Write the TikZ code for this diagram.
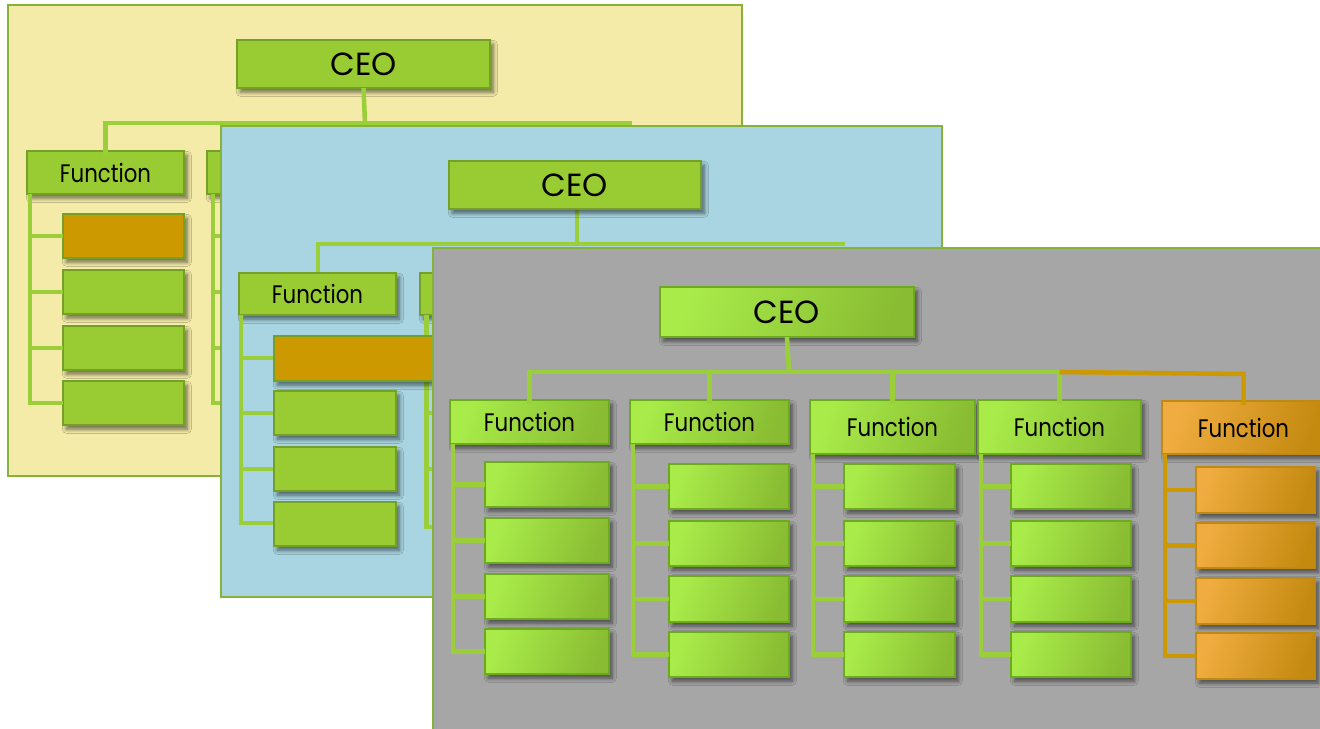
\documentclass[tikz,border=0pt]{standalone}
\usepackage{fontspec}
\setmainfont{Poppins}
\newfontfamily\narrowfont[FakeStretch=0.84]{Poppins}
\usetikzlibrary{shadows.blur}

\definecolor{panelY}{HTML}{F5EBA8}
\definecolor{panelB}{HTML}{A8D5E1}
\definecolor{panelG}{HTML}{A6A6A6}
\definecolor{panelEdge}{HTML}{86B23A}
\definecolor{flatG}{HTML}{99CC33}
\definecolor{flatEdge}{HTML}{74A029}
\definecolor{hiO}{HTML}{CC9900}
\definecolor{lineG}{HTML}{9BCF3A}
\definecolor{gLight}{HTML}{A9EC4A}
\definecolor{gDark}{HTML}{89BC32}
\definecolor{gEdge}{HTML}{6CAA1E}
\definecolor{oLight}{HTML}{F0AC40}
\definecolor{oDark}{HTML}{C48A10}
\definecolor{oEdge}{HTML}{C08A12}
\definecolor{lineO}{HTML}{CC9900}

% box given by its corners in pixel units: style, name, x1, y1, x2, y2, text
\newcommand{\orgbox}[7]{%
  \node[#1, minimum width={(#5-#3)*0.75pt}, minimum height={(#6-#4)*0.75pt}]
    (#2) at ({(#3+#5)/2},{(#4+#6)/2}) {#7};}

\tikzset{
  panel/.style={draw=panelEdge, line width=2.2pt},
  conn/.style={draw=lineG, line width=3.4pt},
  connO/.style={draw=lineO, line width=3.4pt},
  boxshadow/.style={blur shadow={shadow xshift=2.5pt, shadow yshift=-3.2pt,
      shadow blur steps=8, shadow blur radius=3pt, shadow opacity=55}},
  basebox/.style={inner sep=0pt, outer sep=0pt, boxshadow, text=black,
      font=\narrowfont\fontsize{19}{22}\selectfont},
  ceofont/.style={font=\fontsize{24}{28}\selectfont},
  flatbox/.style={basebox, draw=flatEdge, fill=flatG, line width=2.2pt},
  hibox/.style={flatbox, fill=hiO},
  gbox/.style={basebox, draw=gEdge, line width=2pt,
      left color=gLight, right color=gDark, shading angle=70},
  obox/.style={basebox, draw=oEdge, line width=2pt,
      left color=oLight, right color=oDark, shading angle=70},
}

\begin{document}
\begin{tikzpicture}[x=0.75pt,y=-0.75pt]
\useasboundingbox (0,0) rectangle (1320,728);
\clip (0,0) rectangle (1320,728);

% ---------- first sheet ----------
\draw[panel, fill=panelY] (8,5) rectangle (742,476);
\coordinate (ybus) at (365,123);
\coordinate (yend) at (632,123);
\orgbox{flatbox,ceofont}{yceo}{237}{40}{490}{88}{CEO}
\orgbox{flatbox}{yf1}{27}{151}{184}{194}{Function}
\orgbox{flatbox}{yf2}{207}{151}{364}{194}{Function}
\draw[conn] (yceo.south) -- (ybus);
\draw[conn] ([yshift=-3pt]yf1.north) -- (yf1.north |- ybus) -- (yend);
\orgbox{hibox}{ys11}{63}{214}{184}{258}{}
\orgbox{flatbox}{ys12}{63}{270}{184}{314}{}
\orgbox{flatbox}{ys13}{63}{326}{184}{370}{}
\orgbox{flatbox}{ys14}{63}{381}{184}{425}{}
\coordinate (yb1) at ([xshift=2.25pt]yf1.south west);
\draw[conn] (yb1) |- (ys14.west);
\foreach \k in {1,2,3} \draw[conn] (ys1\k.west) -- (ys1\k.west -| yb1);
\orgbox{flatbox}{ys21}{243}{214}{364}{258}{}
\orgbox{flatbox}{ys22}{243}{270}{364}{314}{}
\orgbox{flatbox}{ys23}{243}{326}{364}{370}{}
\orgbox{flatbox}{ys24}{243}{381}{364}{425}{}
\coordinate (yb2) at ([xshift=4.5pt]yf2.south west);
\draw[conn] (yb2) |- (ys24.west);
\foreach \k in {1,2,3} \draw[conn] (ys2\k.west) -- (ys2\k.west -| yb2);

% ---------- second sheet ----------
\draw[panel, fill=panelB] (221,126) rectangle (942,597);
\coordinate (bbus) at (577,244);
\coordinate (bend) at (845,244);
\draw[conn] (577,209) -- (bbus);
\orgbox{flatbox,ceofont}{bceo}{449}{161}{701}{209}{CEO}
\draw[conn] (318,276) -- (318,244) -- (bend);
\orgbox{flatbox}{bf1}{239}{273}{396}{315}{Function}
\orgbox{flatbox}{bf2}{420}{273}{577}{315}{Function}
\coordinate (bb1) at ([xshift=1.5pt]bf1.south west);
\coordinate (bb2) at ([xshift=5pt]bf2.south west);
\draw[conn] (bb1) -- (bb1 |- 0,523) -- (274,523);
\foreach \yy in {358,413,469} \draw[conn] (bb1 |- 0,\yy) -- (274,\yy);
\draw[conn] (bb2) -- (bb2 |- 0,527) -- (455,527);
\foreach \yy in {358,413,469} \draw[conn] (bb2 |- 0,\yy) -- (455,\yy);
\orgbox{hibox}{bs11}{274}{336}{440}{381}{}
\orgbox{flatbox}{bs12}{274}{391}{396}{435}{}
\orgbox{flatbox}{bs13}{274}{447}{396}{491}{}
\orgbox{flatbox}{bs14}{274}{502}{396}{546}{}

% ---------- third sheet ----------
\fill[panelG] (433,248) rectangle (1330,740);
\draw[panel] (433,740) -- (433,248) -- (1330,248);

\coordinate (gbus) at (789,372);
\orgbox{gbox,ceofont}{gceo}{660}{287}{914}{337}{CEO}
\orgbox{gbox}{gf1}{450}{400}{609}{444}{Function}
\orgbox{gbox}{gf2}{630}{400}{789}{444}{Function}
\orgbox{gbox}{gf3}{810}{400}{975}{454}{Function}
\orgbox{gbox}{gf4}{978}{400}{1141}{454}{Function}
\orgbox{obox}{gf5}{1162}{401}{1325}{454}{Function}

% column boxes
\orgbox{gbox}{gs11}{485}{462}{609}{507}{}
\orgbox{gbox}{gs12}{485}{518}{609}{563}{}
\orgbox{gbox}{gs13}{485}{574}{609}{619}{}
\orgbox{gbox}{gs14}{485}{629}{609}{674}{}
\orgbox{gbox}{gs21}{669}{464}{789}{509}{}
\orgbox{gbox}{gs22}{669}{521}{789}{566}{}
\orgbox{gbox}{gs23}{669}{576}{789}{622}{}
\orgbox{gbox}{gs24}{669}{632}{789}{677}{}
\orgbox{gbox}{gs31}{844}{464}{955}{509}{}
\orgbox{gbox}{gs32}{844}{521}{955}{566}{}
\orgbox{gbox}{gs33}{844}{576}{955}{622}{}
\orgbox{gbox}{gs34}{844}{632}{955}{677}{}
\orgbox{gbox}{gs41}{1011}{464}{1131}{509}{}
\orgbox{gbox}{gs42}{1011}{521}{1131}{566}{}
\orgbox{gbox}{gs43}{1011}{576}{1131}{622}{}
\orgbox{gbox}{gs44}{1011}{632}{1131}{677}{}
\orgbox{obox}{gs51}{1196}{467}{1315}{513}{}
\orgbox{obox}{gs52}{1196}{523}{1315}{568}{}
\orgbox{obox}{gs53}{1196}{578}{1315}{624}{}
\orgbox{obox}{gs54}{1196}{633}{1315}{679}{}

% connectors from the CEO to the functions
\draw[conn] (gceo.south) -- (gbus);
\draw[conn] ([yshift=-3pt]gf1.north) -- (gf1.north |- gbus) -- (gf4.north |- gbus);
\foreach \f in {gf2,gf3,gf4} \draw[conn] ([yshift=-3pt]\f.north) -- (\f.north |- gbus);
\draw[connO] (gf4.north |- gbus) -- ([yshift=-1.5pt]gf5.north |- gbus) -- ([yshift=-3pt]gf5.north);

% brackets from each function to its boxes
\foreach \c in {1,2,3,4} {
  \coordinate (gb\c) at ([xshift=2.25pt]gf\c.south west);
  \draw[conn] (gb\c) |- (gs\c4.west);
  \foreach \k in {1,2,3} \draw[conn] (gs\c\k.west) -- (gs\c\k.west -| gb\c);
}
\coordinate (gb5) at ([xshift=2.25pt]gf5.south west);
\draw[connO] (gb5) |- (gs54.west);
\foreach \k in {1,2,3} \draw[connO] (gs5\k.west) -- (gs5\k.west -| gb5);
\end{tikzpicture}
\end{document}
